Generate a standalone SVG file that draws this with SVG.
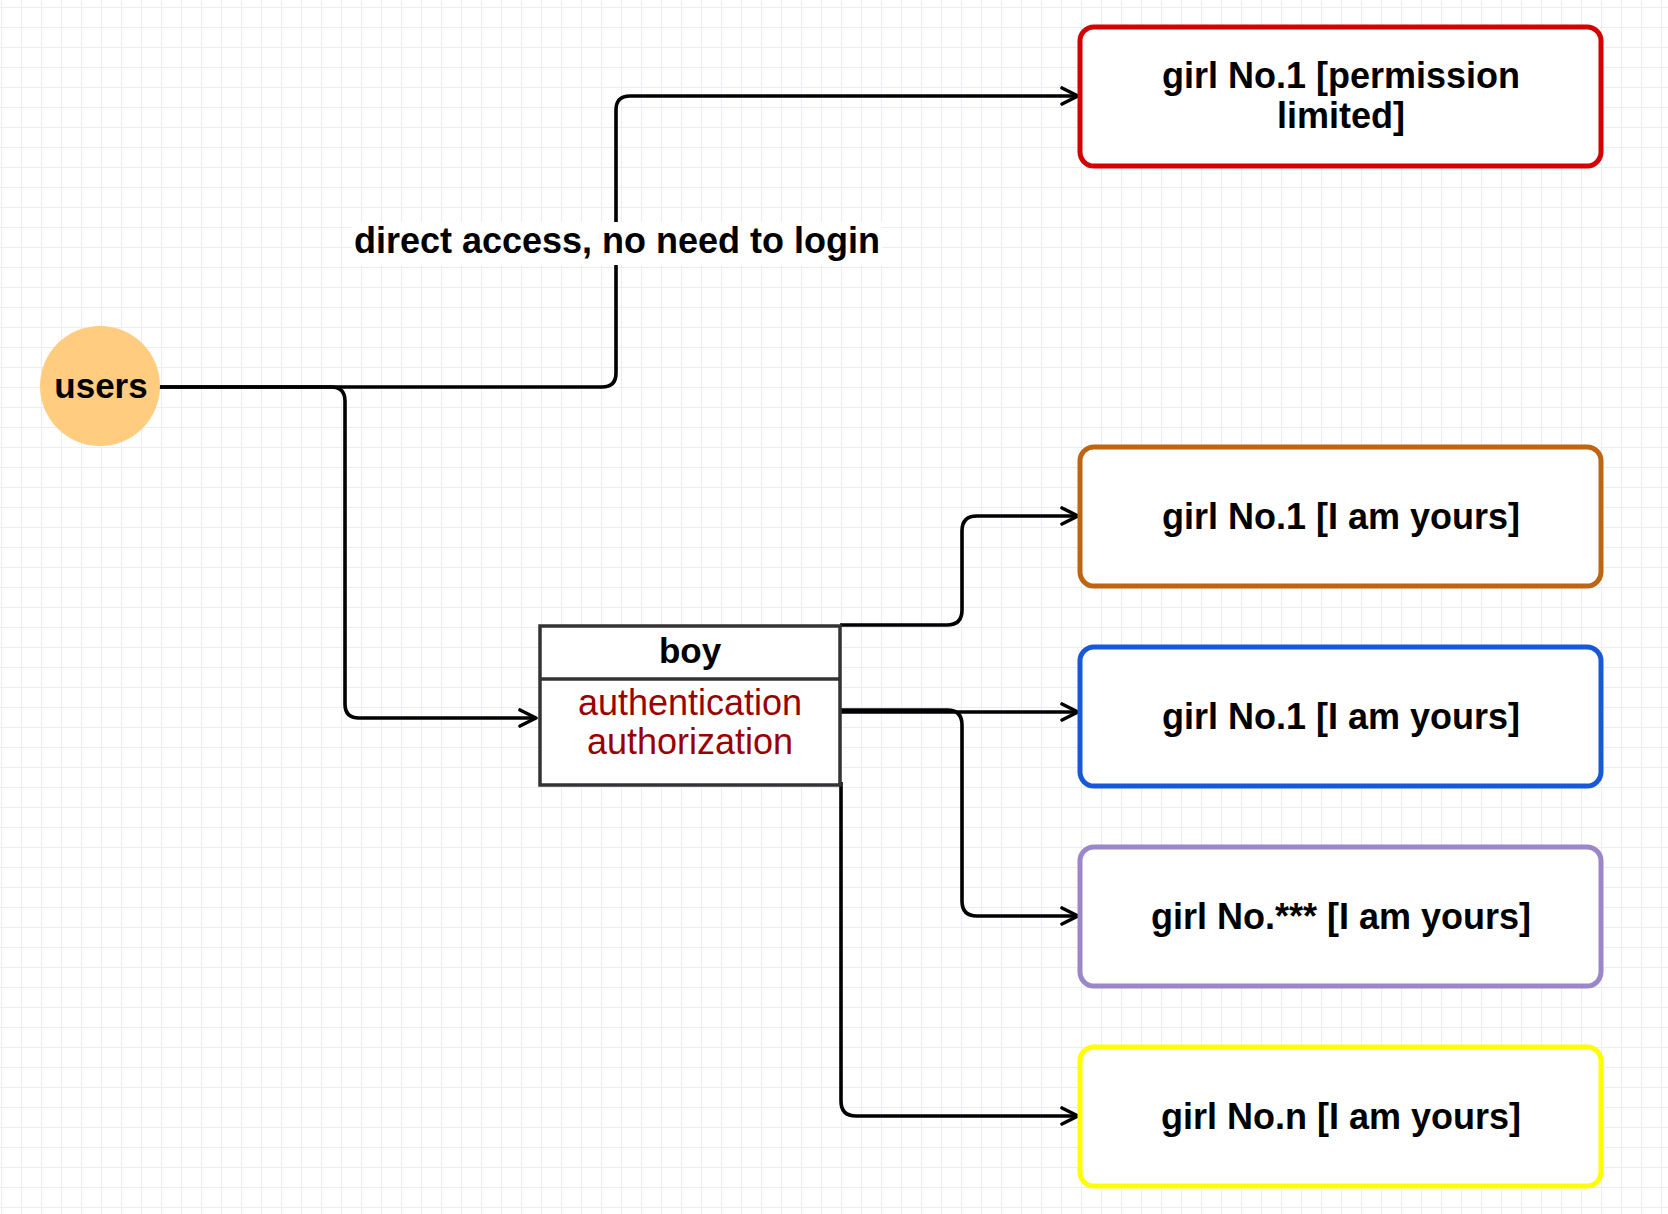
<svg xmlns="http://www.w3.org/2000/svg" width="1668" height="1214" viewBox="0 0 1668 1214">
<style>
.t{font-family:"Liberation Sans",Arial,Helvetica,sans-serif;font-weight:bold;font-size:36px;fill:#000;text-anchor:middle}
.r{font-family:"Liberation Sans",Arial,Helvetica,sans-serif;font-size:36px;fill:#990000;text-anchor:middle}
.box{fill:#fff;stroke-width:5}
.conn{fill:none;stroke:#000;stroke-width:3.6;stroke-linejoin:round}
</style>
<defs>
<pattern id="grid" x="1" y="7" width="20" height="20" patternUnits="userSpaceOnUse">
<path d="M0,0.5 H20 M0.5,0 V20" stroke="#ebebf9" stroke-width="1" fill="none"/>
</pattern>
<marker id="arr" viewBox="0 0 20 20" markerWidth="20" markerHeight="20" refX="18" refY="10" orient="auto" markerUnits="userSpaceOnUse">
<path d="M2,2 L18,10 L2,18" fill="none" stroke="#000" stroke-width="3.6" stroke-linejoin="round" stroke-linecap="round"/>
</marker>
</defs>
<rect width="1668" height="1214" fill="#fff"/>
<rect width="1668" height="1214" fill="url(#grid)"/>

<g id="connectors">
<path class="conn" d="M152,387 H602 Q616,387 616,373 V110 Q616,96 630,96 H1078" marker-end="url(#arr)"/>
<path class="conn" d="M152,387 H331 Q345,387 345,401 V704 Q345,718 359,718 H536" marker-end="url(#arr)"/>
<path class="conn" d="M840,625 H947 Q962,625 962,610 V531 Q962,516 977,516 H1078" marker-end="url(#arr)"/>
<path class="conn" d="M840,712 H1078" marker-end="url(#arr)"/>
<path class="conn" d="M840,710 H947 Q962,710 962,725 V901 Q962,916 977,916 H1078" marker-end="url(#arr)"/>
<path class="conn" d="M841,782 V1101 Q841,1116 856,1116 H1078" marker-end="url(#arr)"/>
<g id="label-direct">
<rect x="352" y="222" width="530" height="43" fill="#fff"/>
<text class="t" x="617" y="253">direct access, no need to login</text>
</g>
</g>

<g id="users">
<circle cx="100" cy="386" r="60" fill="#ffcc80"/>
<text class="t" x="101" y="398" style="font-size:35px">users</text>
</g>

<g id="boy">
<rect x="540" y="626" width="300" height="159" fill="#fff" stroke="#333" stroke-width="3.5"/>
<line x1="540" y1="679" x2="840" y2="679" stroke="#333" stroke-width="3.5"/>
<text class="t" x="690" y="663" style="font-size:35px">boy</text>
<text class="r" x="690" y="715">authentication</text>
<text class="r" x="690" y="754">authorization</text>
</g>

<g id="girl-permission">
<rect class="box" x="1080" y="27" width="521" height="139" rx="14" stroke="#d50000"/>
<text class="t" x="1341" y="88">girl No.1 [permission</text>
<text class="t" x="1341" y="128">limited]</text>
</g>
<g id="girl-orange">
<rect class="box" x="1080" y="447" width="521" height="139" rx="14" stroke="#bd6510"/>
<text class="t" x="1341" y="529">girl No.1 [I am yours]</text>
</g>
<g id="girl-blue">
<rect class="box" x="1080" y="647" width="521" height="139" rx="14" stroke="#1658d8"/>
<text class="t" x="1341" y="729">girl No.1 [I am yours]</text>
</g>
<g id="girl-purple">
<rect class="box" x="1080" y="847" width="521" height="139" rx="14" stroke="#9a86c8"/>
<text class="t" x="1341" y="929">girl No.*** [I am yours]</text>
</g>
<g id="girl-yellow">
<rect class="box" x="1080" y="1047" width="521" height="139" rx="14" stroke="#ffff00"/>
<text class="t" x="1341" y="1129">girl No.n [I am yours]</text>
</g>
</svg>
